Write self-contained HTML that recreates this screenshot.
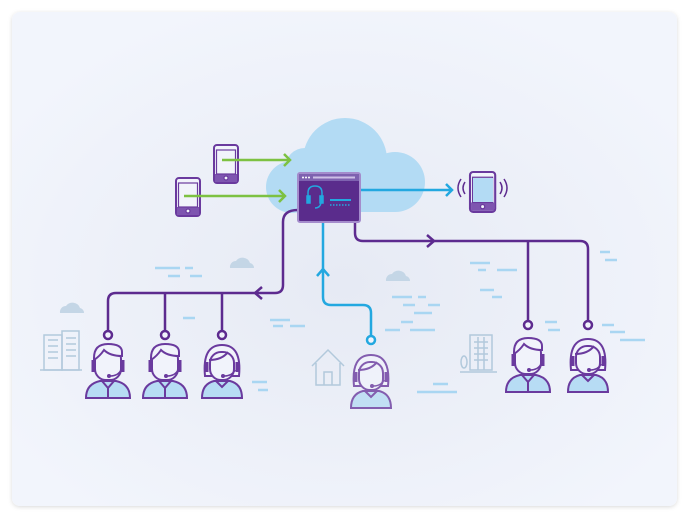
<!DOCTYPE html>
<html><head><meta charset="utf-8"><style>
html,body{margin:0;padding:0;width:689px;height:517px;overflow:hidden;background:#fff;}
</style></head><body>
<svg width="689" height="517" viewBox="0 0 689 517" xmlns="http://www.w3.org/2000/svg">
<defs>
<radialGradient id="bg" cx="50%" cy="55%" r="60%">
<stop offset="0" stop-color="#e6eaf4"/><stop offset="1" stop-color="#f2f5fc"/>
</radialGradient>
<g id="male">
<path d="M-22,50 Q-22,36 -8,33 L8,33 Q22,36 22,50 Z" fill="#b7dcf4" stroke="#6a3a9e" stroke-width="2"/>
<path d="M-6,33 L0,40 L6,33 M0,40 L0,50" fill="none" stroke="#6a3a9e" stroke-width="2"/>
<rect x="-13" y="0" width="26" height="32" rx="11" fill="#f1f3fb" stroke="#6a3a9e" stroke-width="2"/>
<path d="M-14,10 Q-14,-4 0,-4 Q14,-4 14,4 L14,8 Q2,8 -4,2 Q-8,8 -14,12 Z" fill="#f1f3fb" stroke="#6a3a9e" stroke-width="2"/>
<path d="M-15,12 L-15,24 M15,12 L15,24" stroke="#6a3a9e" stroke-width="3"/>
<path d="M13,22 Q10,28 2,28" fill="none" stroke="#6a3a9e" stroke-width="1.5"/>
<circle cx="1" cy="28" r="2" fill="#6a3a9e"/>
</g>
<g id="female">
<path d="M-20,50 Q-20,36 -8,33 L8,33 Q20,36 20,50 Z" fill="#b7dcf4" stroke="#6a3a9e" stroke-width="2"/>
<path d="M-6,33 L0,39 L6,33" fill="none" stroke="#6a3a9e" stroke-width="2"/>
<path d="M-17,28 Q-20,-3 0,-3 Q20,-3 17,28 Z" fill="#f1f3fb" stroke="#6a3a9e" stroke-width="2"/>
<rect x="-12" y="4" width="24" height="28" rx="11" fill="#f1f3fb" stroke="#6a3a9e" stroke-width="2"/>
<path d="M-13,12 Q0,12 6,4" fill="none" stroke="#6a3a9e" stroke-width="2"/>
<path d="M-15,14 L-15,24 M15,14 L15,24" stroke="#6a3a9e" stroke-width="3"/>
<path d="M13,22 Q10,28 2,28" fill="none" stroke="#6a3a9e" stroke-width="1.5"/>
<circle cx="1" cy="28" r="2" fill="#6a3a9e"/>
</g>
<g id="phone">
<rect x="0" y="0" width="24" height="38" rx="3" fill="#f1f3fb" stroke="#6a3a9e" stroke-width="2"/>
<rect x="1" y="29" width="22" height="8" fill="#7e55b0"/>
<rect x="2.5" y="5" width="19" height="24" fill="#f1f3fb" stroke="#6a3a9e" stroke-width="1.2"/>
<circle cx="12" cy="33" r="2" fill="#f1f3fb" stroke="#6a3a9e" stroke-width="1.2"/>
</g>
<filter id="sh" x="-5%" y="-5%" width="110%" height="110%"><feDropShadow dx="0" dy="1" stdDeviation="2" flood-color="#000" flood-opacity="0.15"/></filter>
</defs>
<rect x="0" y="0" width="689" height="517" fill="#fff"/>
<rect x="12" y="12" width="665" height="494" rx="8" fill="url(#bg)" filter="url(#sh)"/>

<g stroke="#a9d6f2" stroke-width="2.5">
<path d="M155,268h25 M185,268h8 M168,276h12 M190,276h12 M183,318h12 M270,320h20 M290,326h15 M273,326h10 M252,382h15 M258,390h10 M392,297h20 M418,297h8 M403,305h12 M428,305h12 M414,313h18 M401,322h12 M385,330h15 M410,330h25 M470,263h20 M478,270h8 M497,270h20 M480,290h14 M492,297h10 M600,252h10 M605,260h12 M602,325h12 M610,332h15 M620,340h25 M433,384h15 M417,392h40 M545,322h12 M548,330h12"/>
</g>
<g fill="#c4d6e6">
<path d="M230,268 a6,6 0 0 1 6,-7 a8,8 0 0 1 14,2 a5,5 0 0 1 4,5 Z"/>
<path d="M60,313 a6,6 0 0 1 6,-7 a8,8 0 0 1 14,2 a5,5 0 0 1 4,5 Z"/>
<path d="M386,281 a6,6 0 0 1 6,-7 a8,8 0 0 1 14,2 a5,5 0 0 1 4,5 Z"/>
</g>
<g fill="none" stroke="#b2c9dc" stroke-width="1.5">
<rect x="44" y="335" width="18" height="35"/><rect x="62" y="331" width="17" height="39"/>
<path d="M40,370h42"/>
<path d="M48,340h10M48,346h10M48,352h10M48,358h10M66,338h10M66,344h10M66,350h10M66,356h10"/>
<path d="M312,366 L328,350 L344,366 M316,363 V385 H340 V363 M324,385 V372 H332 V385"/>
<rect x="470" y="335" width="22" height="35"/><path d="M474,342h14M474,348h14M474,354h14M474,360h14M478,337v33M484,337v33 M460,372h37"/>
<ellipse cx="464" cy="362" rx="3" ry="6"/>
</g>
<g fill="#b3dbf4">
<circle cx="345" cy="160" r="42"/><circle cx="395" cy="182" r="30"/><circle cx="292" cy="187" r="26"/>
<circle cx="305" cy="168" r="20"/>
<rect x="292" y="170" width="103" height="42"/>
</g>
<g fill="none" stroke="#5d2b8f" stroke-width="2.5">
<path d="M298,210 Q283,210 283,222 V285 Q283,293 275,293 H116 Q108,293 108,301 V330"/>
<path d="M165,293 V330 M222,293 V330"/>
<path d="M355,222 V233 Q355,241 363,241 H580 Q588,241 588,249 V321"/>
<path d="M528,241 V321"/>
<path d="M262,287 L255,293 L262,299"/>
<path d="M427,235 L434,241 L427,247"/>
</g>
<g fill="#f1f3fb" stroke="#5d2b8f" stroke-width="2.5">
<circle cx="108" cy="335" r="4"/><circle cx="165" cy="335" r="4"/><circle cx="222" cy="335" r="4"/>
<circle cx="528" cy="325" r="4"/><circle cx="588" cy="325" r="4"/>
</g>
<g fill="none" stroke="#23a8e0" stroke-width="2.5">
<path d="M371,336 V313 Q371,305 363,305 H331 Q323,305 323,297 V222"/>
<path d="M317,276 L323,269 L329,276"/>
<path d="M360,190 H452 M446,184 L452,190 L446,196"/>
</g>
<circle cx="371" cy="340" r="4" fill="#f1f3fb" stroke="#23a8e0" stroke-width="2.5"/>
<g fill="none" stroke="#7dc142" stroke-width="2.5">
<path d="M284,154 L290,160 L284,166"/>
<path d="M279,190 L285,196 L279,202"/>
</g>
<use href="#phone" x="214" y="145"/>
<use href="#phone" x="176" y="178"/>
<path d="M222,160 H290" stroke="#7dc142" stroke-width="2.5"/>
<path d="M184,196 H285" stroke="#7dc142" stroke-width="2.5"/>
<g transform="translate(470,172) scale(1.05)"><use href="#phone"/></g>
<rect x="473" y="178" width="20" height="24" fill="#b3dbf4"/>
<g fill="none" stroke="#5d2b8f" stroke-width="1.5">
<path d="M465,182 q-4,6 0,12 M461,179 q-6,9 0,18 M500,182 q4,6 0,12 M504,179 q6,9 0,18"/>
</g>
<rect x="298" y="173" width="62" height="49" rx="2" fill="#5a2c8c" stroke="#a48ccc" stroke-width="2"/>
<rect x="299" y="174" width="60" height="7" fill="#7e62b0"/>
<circle cx="303" cy="177.5" r="1" fill="#fff"/><circle cx="306" cy="177.5" r="1" fill="#fff"/><circle cx="309" cy="177.5" r="1" fill="#fff"/>
<rect x="313" y="176.5" width="42" height="2" fill="#cdbfe6"/>
<g fill="none" stroke="#23a8e0" stroke-width="1.5">
<path d="M308,203 V193 Q308,186 315,186 Q322,186 322,193 V203"/>
<rect x="307" y="196" width="3" height="7" fill="#23a8e0"/><rect x="320" y="196" width="3" height="7" fill="#23a8e0"/>
<path d="M321,203 Q320,208 315,208"/>
<path d="M330,200 H351" stroke-width="2"/>
<path d="M330,205 H351" stroke-dasharray="1.5 1.5"/>
</g>
<use href="#male" x="108" y="348"/>
<use href="#male" x="165" y="348"/>
<use href="#female" x="222" y="348"/>
<g opacity="0.8"><use href="#female" x="371" y="358"/></g>
<use href="#male" x="528" y="342"/>
<use href="#female" x="588" y="342"/>
</svg>
</body></html>
